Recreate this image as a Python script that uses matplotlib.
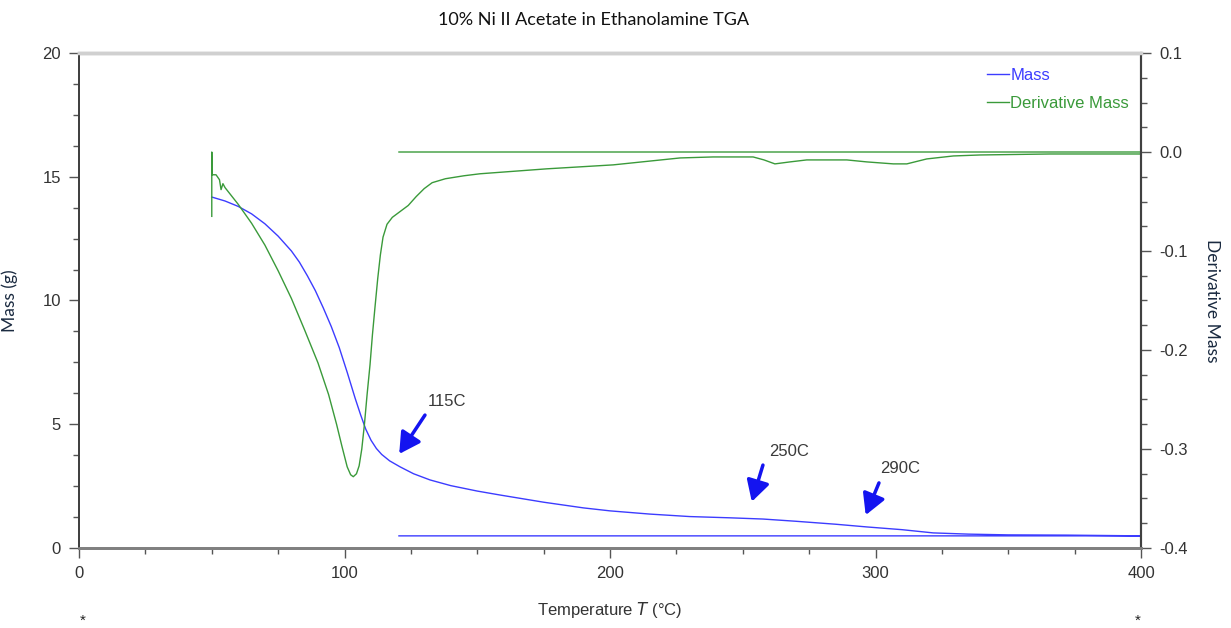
import matplotlib.pyplot as plt
from matplotlib.ticker import MultipleLocator, FormatStrFormatter

plt.rcParams['axes.unicode_minus'] = False
plt.rcParams['font.family'] = ['Liberation Sans', 'DejaVu Sans']

# Mass curve (g) vs temperature (°C); last two points are the return sweep
mass_temp = [50.0, 55.0, 60.0, 65.0, 70.0, 75.0, 80.0, 83.0, 86.0, 89.0,
             92.0, 95.0, 98.0, 101.0, 104.0, 106.0, 108.0, 110.0, 112.0,
             114.0, 117.0, 120.9, 126.0, 132.2, 140.0, 150.0, 158.6, 175.0,
             190.0, 200.0, 215.0, 230.0, 245.0, 257.6, 270.0, 285.0, 296.8,
             310.0, 321.7, 335.0, 350.0, 372.1, 400.0, 120.5]
mass_val = [14.18, 14.02, 13.80, 13.50, 13.10, 12.60, 12.00, 11.55, 11.00,
            10.40, 9.70, 8.95, 8.10, 7.10, 6.05, 5.40, 4.80, 4.35, 4.02,
            3.78, 3.52, 3.28, 3.00, 2.75, 2.52, 2.30, 2.14, 1.85,
            1.62, 1.50, 1.37, 1.27, 1.22, 1.17, 1.08, 0.96, 0.85,
            0.74, 0.61, 0.56, 0.53, 0.52, 0.49, 0.49]

# Derivative mass vs temperature; last point is the return sweep
deriv_temp = [50.0, 50.0, 50.1, 51.6, 52.9, 53.5, 54.2, 55.0, 60.0, 65.0,
              70.0, 75.0, 80.0, 85.0, 90.0, 94.0, 97.0, 99.0, 101.0, 102.3,
              103.3, 104.5, 105.5, 106.5, 107.5, 108.5, 109.6, 110.5, 111.5,
              112.5, 113.5, 114.5, 116.0, 118.0, 121.0, 124.0, 127.0, 130.0,
              133.0, 138.0, 145.0, 151.0, 176.2, 201.2, 226.4, 238.8, 253.9,
              258.0, 262.1, 267.8, 274.1, 289.2, 296.7, 306.7, 311.8, 319.3,
              329.3, 339.4, 365.7, 400.0, 400.0, 120.5]
deriv_val = [-0.065, 0.0, -0.023, -0.023, -0.028, -0.038, -0.032, -0.036,
             -0.053, -0.072, -0.094, -0.120, -0.148, -0.180, -0.213, -0.245,
             -0.275, -0.297, -0.318, -0.326, -0.328, -0.325, -0.317, -0.300,
             -0.275, -0.245, -0.215, -0.185, -0.156, -0.128, -0.104, -0.086,
             -0.073, -0.066, -0.060, -0.054, -0.045, -0.037, -0.031, -0.027,
             -0.024, -0.022, -0.017, -0.013, -0.006, -0.005, -0.005,
             -0.008, -0.012, -0.010, -0.008, -0.008, -0.010, -0.012, -0.012,
             -0.007, -0.004, -0.003, -0.002, -0.002, 0.0, 0.0]

# Annotations: label, arrow tip (T, mass), arrow tail, text position
notes = [('115C', (120.6, 3.80), (130.3, 5.37), (138.5, 5.91)),
         ('250C', (253.4, 1.87), (257.6, 3.35), (267.4, 3.88)),
         ('290C', (296.3, 1.33), (301.3, 2.63), (309.2, 3.23))]

blue = '#3c3cff'
green = '#3a9a3a'
tick_col = '#333333'

fig = plt.figure(figsize=(12.31, 6.28), dpi=100)
ax1 = fig.add_axes([0.0642, 0.1274, 0.8627, 0.7882])
ax2 = ax1.twinx()

l1, = ax1.plot(mass_temp, mass_val, color=blue, lw=1.0, label='Mass')
l2, = ax2.plot(deriv_temp, deriv_val, color=green, lw=1.0, label='Derivative Mass')

ax1.set_xlim(0, 400)
ax1.set_ylim(0, 20)
ax2.set_ylim(-0.4, 0.1)

ax1.xaxis.set_major_locator(MultipleLocator(100))
ax1.xaxis.set_minor_locator(MultipleLocator(25))
ax1.yaxis.set_major_locator(MultipleLocator(5))
ax1.yaxis.set_minor_locator(MultipleLocator(1.25))
ax2.yaxis.set_major_locator(MultipleLocator(0.1))
ax2.yaxis.set_minor_locator(MultipleLocator(0.025))
ax2.yaxis.set_major_formatter(FormatStrFormatter('%.1f'))

for ax in (ax1, ax2):
    ax.tick_params(which='major', direction='out', length=7, width=1,
                   color='#555555', labelcolor=tick_col, labelsize=12, pad=6)
    ax.tick_params(which='minor', direction='out', length=4, width=1,
                   color='#555555')
    ax.spines['top'].set_color('#d0d0d0')
    ax.spines['top'].set_linewidth(2.5)
    ax.spines['bottom'].set_color('#808080')
    ax.spines['bottom'].set_linewidth(2)
    ax.spines['left'].set_color('#404040')
    ax.spines['left'].set_linewidth(1.3)
    ax.spines['right'].set_color('#404040')
    ax.spines['right'].set_linewidth(1.5)

ax1.set_xlabel('Temperature $\\it{T}$ (°C)', fontsize=12, color=tick_col,
               labelpad=14)
ax1.set_ylabel('Mass (g)', fontsize=12.5, fontfamily='Lato', color='#1a2a40')
ax1.yaxis.set_label_coords(-0.057, 0.5)
ax2.set_ylabel('Derivative Mass', fontsize=12.5, fontfamily='Lato',
               color='#1a2a40', rotation=270, va='center')
ax2.yaxis.set_label_coords(1.067, 0.5)

for label, tip, tail, txt in notes:
    ax1.annotate('', xy=tip, xytext=tail,
                 arrowprops=dict(arrowstyle='-|>,head_length=0.9,head_width=0.5',
                                 color='#1414f0', lw=2.5, mutation_scale=14,
                                 shrinkA=0, shrinkB=0))
    ax1.text(txt[0], txt[1], label, ha='center', va='center', fontsize=12,
             color='#3a3a3a')

leg = ax1.legend(handles=[l1, l2], loc='upper right',
                 bbox_to_anchor=(1.003, 1.0), frameon=False,
                 handlelength=1.3, handletextpad=0.1, labelspacing=0.75,
                 labelcolor='linecolor', prop={'size': 12})

fig.text(0.482, 0.968, '10% Ni II Acetate in Ethanolamine TGA', ha='center',
         va='center', fontsize=13, fontfamily='Lato', color='#111111')
fig.text(0.067, 0.012, '*', ha='center', va='center', fontsize=11, color='#222222')
fig.text(0.924, 0.012, '*', ha='center', va='center', fontsize=11, color='#222222')

fig.savefig('out.png', dpi=100)
